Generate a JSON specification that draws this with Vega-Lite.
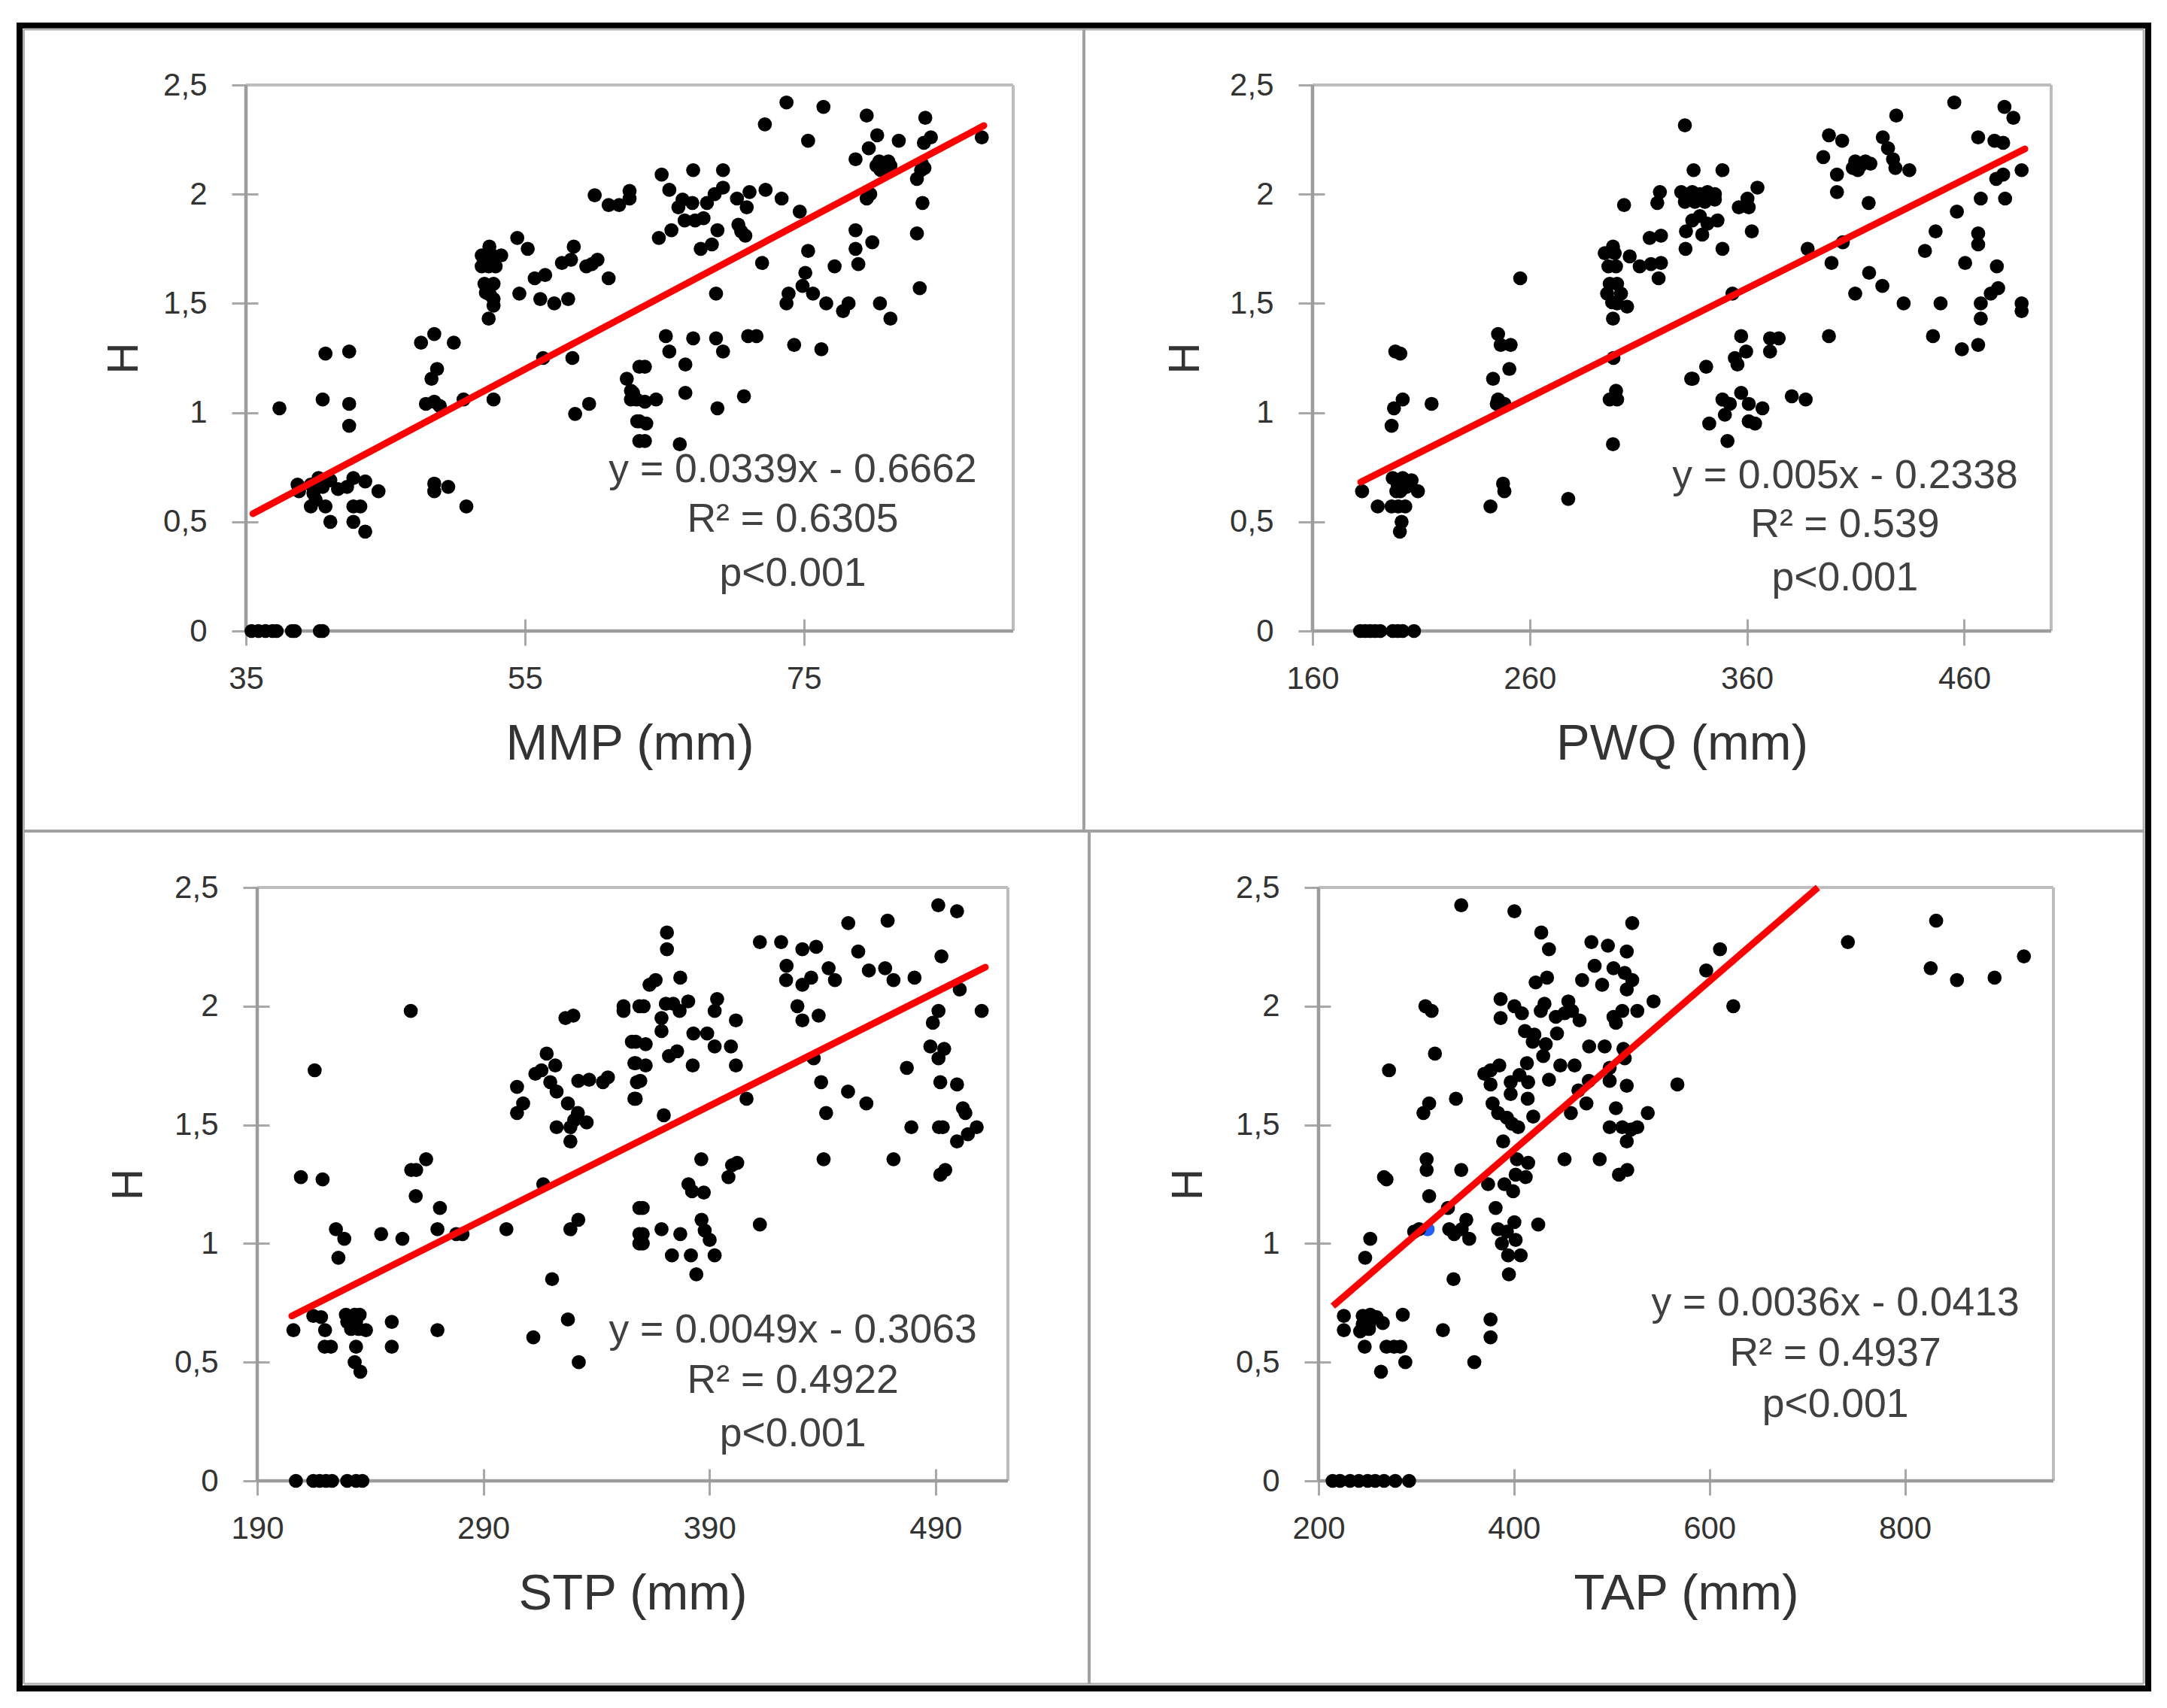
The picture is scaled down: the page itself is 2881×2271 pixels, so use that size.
{"$schema":"https://vega.github.io/schema/vega-lite/v6.json","background":"white","padding":{"left":20,"top":28,"right":23,"bottom":25},"columns":2,"align":"none","bounds":"flush","spacing":{"row":341,"column":398},
"config":{"view":{"stroke":null},"axis":{"grid":false,"domain":false,"tickColor":"#a8a8a8","tickWidth":3,"tickSize":35,"labelFont":"Liberation Sans","labelFontSize":42,"labelColor":"#333333","labelFlush":false,"labelOverlap":false,"labelBound":false,"titleFont":"Liberation Sans","titleFontWeight":"normal","titleColor":"#333333"},"axisX":{"labelPadding":24,"titleFontSize":67,"titleBaseline":"middle","titleY":166,"offset":-16},"axisY":{"labelPadding":33,"titleFontSize":58,"titleAngle":270,"titleBaseline":"middle","format":"~g","labelExpr":"replace(datum.label,'.',',')"}},
"datasets":{
"mmp":[{"x":35.4,"y":0},{"x":35.9,"y":0},{"x":36.4,"y":0},{"x":36.9,"y":0},{"x":37.2,"y":0},{"x":38.3,"y":0},{"x":38.5,"y":0},{"x":40.3,"y":0},{"x":40.5,"y":0},{"x":37.4,"y":1.02},{"x":40.5,"y":1.06},{"x":40.7,"y":1.27},{"x":42.4,"y":1.28},{"x":42.4,"y":1.04},{"x":42.4,"y":0.94},{"x":38.7,"y":0.67},{"x":38.8,"y":0.64},{"x":39.65,"y":0.67},{"x":40.2,"y":0.7},{"x":40.5,"y":0.66},{"x":39.84,"y":0.63},{"x":40,"y":0.6},{"x":39.65,"y":0.57},{"x":40.7,"y":0.57},{"x":41.05,"y":0.5},{"x":41.05,"y":0.69},{"x":41.6,"y":0.65},{"x":42.25,"y":0.66},{"x":42.7,"y":0.7},{"x":43.55,"y":0.685},{"x":44.5,"y":0.64},{"x":42.7,"y":0.57},{"x":43.2,"y":0.57},{"x":42.7,"y":0.5},{"x":43.55,"y":0.455},{"x":47.55,"y":1.32},{"x":48.5,"y":1.36},{"x":49.9,"y":1.32},{"x":48.7,"y":1.2},{"x":48.3,"y":1.155},{"x":47.9,"y":1.04},{"x":48.5,"y":1.05},{"x":48.9,"y":1.03},{"x":50.6,"y":1.06},{"x":52.75,"y":1.06},{"x":48.5,"y":0.675},{"x":48.5,"y":0.64},{"x":49.5,"y":0.66},{"x":50.8,"y":0.57},{"x":56.3,"y":1.25},{"x":58.4,"y":1.25},{"x":59.6,"y":1.04},{"x":58.6,"y":0.994},{"x":52.45,"y":1.76},{"x":51.9,"y":1.72},{"x":53.3,"y":1.72},{"x":52.65,"y":1.72},{"x":51.9,"y":1.67},{"x":52.9,"y":1.67},{"x":52.4,"y":1.67},{"x":52.1,"y":1.59},{"x":52.75,"y":1.59},{"x":52.2,"y":1.55},{"x":52.75,"y":1.52},{"x":52.75,"y":1.49},{"x":52.4,"y":1.43},{"x":52.5,"y":1.54},{"x":54.45,"y":1.8},{"x":55.2,"y":1.75},{"x":58.5,"y":1.76},{"x":57.65,"y":1.685},{"x":58.3,"y":1.7},{"x":59.4,"y":1.67},{"x":60.2,"y":1.7},{"x":59.8,"y":1.68},{"x":61,"y":1.615},{"x":55.7,"y":1.615},{"x":56.45,"y":1.63},{"x":54.6,"y":1.545},{"x":56.1,"y":1.52},{"x":57.1,"y":1.5},{"x":58.1,"y":1.52},{"x":60,"y":1.995},{"x":61,"y":1.95},{"x":61.75,"y":1.95},{"x":62.5,"y":1.98},{"x":62.5,"y":2.015},{"x":62.3,"y":1.155},{"x":63.2,"y":1.21},{"x":62.6,"y":1.1},{"x":62.6,"y":1.06},{"x":63.05,"y":0.96},{"x":63.2,"y":0.87},{"x":73.75,"y":2.42},{"x":76.4,"y":2.4},{"x":72.2,"y":2.32},{"x":75.3,"y":2.245},{"x":79.5,"y":2.36},{"x":80.25,"y":2.27},{"x":79.65,"y":2.21},{"x":78.7,"y":2.16},{"x":81.8,"y":2.245},{"x":83.7,"y":2.35},{"x":84.1,"y":2.26},{"x":83.6,"y":2.235},{"x":87.75,"y":2.26},{"x":80.4,"y":2.15},{"x":81.05,"y":2.15},{"x":80.5,"y":2.11},{"x":80.2,"y":2.13},{"x":80.75,"y":2.12},{"x":81.2,"y":2.13},{"x":83.45,"y":2.14},{"x":83.4,"y":2.11},{"x":83.1,"y":2.07},{"x":83.64,"y":2.12},{"x":79.75,"y":2},{"x":79.5,"y":1.98},{"x":83.5,"y":1.96},{"x":83.1,"y":1.82},{"x":83.3,"y":1.57},{"x":78.7,"y":1.835},{"x":79.9,"y":1.78},{"x":78.7,"y":1.75},{"x":78.9,"y":1.68},{"x":77.2,"y":1.67},{"x":75.3,"y":1.74},{"x":72,"y":1.685},{"x":74.7,"y":1.92},{"x":73.4,"y":1.98},{"x":72.25,"y":2.02},{"x":71.1,"y":2.01},{"x":70.9,"y":1.94},{"x":70.2,"y":1.98},{"x":69.2,"y":2.03},{"x":69.2,"y":2.11},{"x":67.06,"y":2.11},{"x":64.8,"y":2.09},{"x":65.35,"y":2.02},{"x":66.3,"y":1.975},{"x":66,"y":1.94},{"x":67,"y":1.96},{"x":68.05,"y":1.96},{"x":68.6,"y":2},{"x":66.45,"y":1.88},{"x":67.2,"y":1.88},{"x":67.8,"y":1.89},{"x":65.5,"y":1.835},{"x":64.6,"y":1.8},{"x":68.8,"y":1.835},{"x":68.4,"y":1.77},{"x":67.6,"y":1.75},{"x":70.3,"y":1.86},{"x":70.5,"y":1.83},{"x":70.8,"y":1.81},{"x":68.7,"y":1.545},{"x":75.1,"y":1.64},{"x":74.9,"y":1.58},{"x":73.9,"y":1.545},{"x":73.75,"y":1.5},{"x":75.65,"y":1.545},{"x":76.6,"y":1.5},{"x":78.2,"y":1.5},{"x":77.8,"y":1.465},{"x":80.45,"y":1.5},{"x":81.2,"y":1.43},{"x":65.1,"y":1.35},{"x":65.35,"y":1.28},{"x":67.06,"y":1.34},{"x":68.7,"y":1.34},{"x":69.2,"y":1.28},{"x":66.5,"y":1.22},{"x":63.6,"y":1.21},{"x":71,"y":1.35},{"x":71.6,"y":1.35},{"x":74.3,"y":1.31},{"x":76.25,"y":1.29},{"x":66.5,"y":1.09},{"x":68.8,"y":1.02},{"x":70.7,"y":1.075},{"x":64.4,"y":1.06},{"x":63.6,"y":1.05},{"x":62.75,"y":1.09},{"x":63,"y":1.06},{"x":63.2,"y":0.96},{"x":63.7,"y":0.95},{"x":63.6,"y":0.87},{"x":66.1,"y":0.855}],
"pwq":[{"x":181.9,"y":0},{"x":184.2,"y":0},{"x":186.5,"y":0},{"x":188.8,"y":0},{"x":191.2,"y":0},{"x":196.9,"y":0},{"x":199.2,"y":0},{"x":201.5,"y":0},{"x":206.7,"y":0},{"x":182.8,"y":0.64},{"x":190,"y":0.57},{"x":196.4,"y":0.57},{"x":202.7,"y":0.57},{"x":199.5,"y":0.57},{"x":196.9,"y":0.7},{"x":201.5,"y":0.7},{"x":205.6,"y":0.69},{"x":199.2,"y":0.67},{"x":203.3,"y":0.66},{"x":208.5,"y":0.64},{"x":200.4,"y":0.64},{"x":198.6,"y":0.64},{"x":201,"y":0.5},{"x":200.2,"y":0.455},{"x":198.1,"y":1.28},{"x":200.4,"y":1.27},{"x":201.5,"y":1.06},{"x":197.5,"y":1.02},{"x":196.4,"y":0.94},{"x":214.8,"y":1.04},{"x":245.4,"y":1.36},{"x":246.6,"y":1.31},{"x":251.2,"y":1.31},{"x":250.6,"y":1.2},{"x":243.1,"y":1.155},{"x":245.4,"y":1.06},{"x":244.8,"y":1.04},{"x":248.3,"y":1.04},{"x":255.6,"y":1.615},{"x":247.7,"y":0.675},{"x":248.3,"y":0.64},{"x":241.9,"y":0.57},{"x":277.7,"y":0.605},{"x":298.3,"y":1.76},{"x":294.5,"y":1.73},{"x":299.1,"y":1.73},{"x":296.2,"y":1.67},{"x":299.7,"y":1.67},{"x":306,"y":1.715},{"x":310.6,"y":1.67},{"x":315.8,"y":1.68},{"x":320.4,"y":1.685},{"x":319.3,"y":1.615},{"x":296.8,"y":1.59},{"x":300.2,"y":1.59},{"x":295.6,"y":1.545},{"x":302,"y":1.545},{"x":297.9,"y":1.505},{"x":300.2,"y":1.5},{"x":304.8,"y":1.485},{"x":298.3,"y":1.43},{"x":298.5,"y":1.25},{"x":299.7,"y":1.1},{"x":296.8,"y":1.06},{"x":300.2,"y":1.06},{"x":298.3,"y":0.855},{"x":303.4,"y":1.95},{"x":315.2,"y":1.8},{"x":320.4,"y":1.81},{"x":319.9,"y":2.01},{"x":318.7,"y":1.96},{"x":331.4,"y":2.315},{"x":329.7,"y":2.01},{"x":334.3,"y":1.155},{"x":335.4,"y":2.11},{"x":348.7,"y":2.11},{"x":331.4,"y":2},{"x":334.8,"y":2.01},{"x":338.3,"y":2},{"x":341.8,"y":2.01},{"x":345.2,"y":2},{"x":331.4,"y":1.965},{"x":336,"y":1.965},{"x":340.6,"y":1.965},{"x":345.2,"y":1.975},{"x":338.3,"y":1.9},{"x":334.8,"y":1.88},{"x":341.8,"y":1.865},{"x":346.4,"y":1.88},{"x":331.9,"y":1.83},{"x":339.4,"y":1.815},{"x":331.7,"y":1.75},{"x":348.7,"y":1.75},{"x":356.2,"y":1.94},{"x":360.8,"y":1.94},{"x":360.2,"y":1.98},{"x":364.8,"y":2.03},{"x":362.2,"y":1.83},{"x":353.3,"y":1.545},{"x":387.9,"y":1.75},{"x":404.1,"y":1.78},{"x":398.9,"y":1.685},{"x":416.2,"y":1.64},{"x":409.8,"y":1.545},{"x":422.3,"y":1.58},{"x":432.1,"y":1.5},{"x":449.1,"y":1.5},{"x":441.9,"y":1.74},{"x":446.8,"y":1.83},{"x":456.6,"y":1.92},{"x":467.6,"y":1.98},{"x":478.8,"y":1.98},{"x":466.4,"y":1.82},{"x":466.4,"y":1.77},{"x":460.4,"y":1.685},{"x":475,"y":1.67},{"x":475.6,"y":1.57},{"x":472.2,"y":1.545},{"x":467.6,"y":1.5},{"x":467.6,"y":1.43},{"x":486.4,"y":1.5},{"x":486.4,"y":1.465},{"x":445.6,"y":1.35},{"x":466.4,"y":1.31},{"x":458.9,"y":1.29},{"x":397.7,"y":1.35},{"x":397.7,"y":2.27},{"x":403.8,"y":2.245},{"x":395.1,"y":2.17},{"x":401.4,"y":2.09},{"x":401.4,"y":2.01},{"x":416,"y":1.96},{"x":428.7,"y":2.36},{"x":422.5,"y":2.26},{"x":424.9,"y":2.21},{"x":427.2,"y":2.16},{"x":428.3,"y":2.12},{"x":434.7,"y":2.11},{"x":409.8,"y":2.15},{"x":414.5,"y":2.15},{"x":416.8,"y":2.14},{"x":411,"y":2.11},{"x":408.7,"y":2.12},{"x":412.2,"y":2.13},{"x":455.4,"y":2.42},{"x":478.5,"y":2.4},{"x":482.6,"y":2.35},{"x":466.4,"y":2.26},{"x":473.9,"y":2.245},{"x":477.9,"y":2.235},{"x":486.4,"y":2.11},{"x":477.9,"y":2.09},{"x":474.7,"y":2.07},{"x":357.3,"y":1.35},{"x":359.6,"y":1.28},{"x":354.4,"y":1.25},{"x":355.6,"y":1.22},{"x":341.2,"y":1.21},{"x":335,"y":1.155},{"x":370.6,"y":1.34},{"x":374.6,"y":1.34},{"x":370.6,"y":1.28},{"x":348.7,"y":1.06},{"x":357.3,"y":1.09},{"x":352.1,"y":1.04},{"x":349.8,"y":0.99},{"x":360.8,"y":1.04},{"x":367.1,"y":1.02},{"x":342.6,"y":0.95},{"x":360.8,"y":0.96},{"x":363.7,"y":0.95},{"x":351,"y":0.87},{"x":380.6,"y":1.075},{"x":387,"y":1.06}],
"stp":[{"x":207.1,"y":0},{"x":214.8,"y":0},{"x":217.6,"y":0},{"x":220.4,"y":0},{"x":223.1,"y":0},{"x":229.8,"y":0},{"x":233.7,"y":0},{"x":236.5,"y":0},{"x":206,"y":0.635},{"x":215.4,"y":1.73},{"x":257.9,"y":1.98},{"x":209.3,"y":1.28},{"x":218.9,"y":1.27},{"x":224.8,"y":1.06},{"x":228.5,"y":1.02},{"x":225.9,"y":0.94},{"x":244.8,"y":1.04},{"x":254.2,"y":1.02},{"x":264.7,"y":1.355},{"x":260.3,"y":1.31},{"x":258.1,"y":1.31},{"x":260.1,"y":1.2},{"x":270.8,"y":1.15},{"x":269.7,"y":1.06},{"x":278,"y":1.04},{"x":280.8,"y":1.04},{"x":300.2,"y":1.06},{"x":214.8,"y":0.695},{"x":218.2,"y":0.69},{"x":220,"y":0.635},{"x":219.8,"y":0.565},{"x":222.6,"y":0.565},{"x":229.2,"y":0.7},{"x":233.1,"y":0.7},{"x":235.3,"y":0.7},{"x":229.8,"y":0.67},{"x":233.7,"y":0.67},{"x":231.5,"y":0.64},{"x":234.8,"y":0.64},{"x":238.1,"y":0.635},{"x":233.7,"y":0.565},{"x":233.1,"y":0.5},{"x":235.6,"y":0.46},{"x":249.5,"y":0.67},{"x":249.5,"y":0.565},{"x":269.7,"y":0.635},{"x":312.1,"y":0.605},{"x":327.4,"y":0.68},{"x":320.4,"y":0.85},{"x":332.2,"y":0.5},{"x":316.5,"y":1.25},{"x":332,"y":1.1},{"x":328.5,"y":1.06},{"x":304.9,"y":1.66},{"x":307.6,"y":1.59},{"x":304.9,"y":1.55},{"x":318,"y":1.8},{"x":321.8,"y":1.75},{"x":313,"y":1.715},{"x":315.7,"y":1.73},{"x":319.6,"y":1.68},{"x":322.4,"y":1.64},{"x":327.4,"y":1.59},{"x":331.8,"y":1.55},{"x":335.7,"y":1.51},{"x":322.4,"y":1.49},{"x":328.5,"y":1.49},{"x":330.2,"y":1.52},{"x":328.5,"y":1.43},{"x":332,"y":1.685},{"x":336.8,"y":1.69},{"x":342.9,"y":1.68},{"x":345.1,"y":1.7},{"x":326.3,"y":1.95},{"x":329.8,"y":1.96},{"x":352,"y":1.98},{"x":352,"y":2},{"x":359,"y":2},{"x":355.7,"y":1.85},{"x":356.8,"y":1.76},{"x":357.9,"y":1.68},{"x":356.8,"y":1.61},{"x":359,"y":1.15},{"x":359,"y":1.04},{"x":359,"y":1},{"x":371.2,"y":2.31},{"x":371.2,"y":2.24},{"x":366.2,"y":2.11},{"x":363.5,"y":2.09},{"x":377.1,"y":2.12},{"x":360.9,"y":2},{"x":370.7,"y":2.01},{"x":374,"y":2.01},{"x":376.8,"y":1.98},{"x":380.6,"y":2.02},{"x":368.8,"y":1.95},{"x":368.8,"y":1.895},{"x":393.4,"y":2.03},{"x":392.3,"y":1.98},{"x":401.7,"y":1.94},{"x":382.9,"y":1.885},{"x":389,"y":1.885},{"x":392.3,"y":1.83},{"x":399.5,"y":1.83},{"x":401.7,"y":1.75},{"x":382.6,"y":1.75},{"x":375.7,"y":1.81},{"x":372.1,"y":1.79},{"x":361.8,"y":1.84},{"x":357.4,"y":1.85},{"x":361.8,"y":1.75},{"x":357.4,"y":1.76},{"x":359.4,"y":1.685},{"x":357.4,"y":1.61},{"x":369.8,"y":1.54},{"x":406.4,"y":1.61},{"x":386.4,"y":1.355},{"x":402.3,"y":1.34},{"x":400,"y":1.33},{"x":398.4,"y":1.28},{"x":380.7,"y":1.25},{"x":382.3,"y":1.22},{"x":387.5,"y":1.215},{"x":360.5,"y":1.15},{"x":360.5,"y":1.04},{"x":360.5,"y":1},{"x":368.8,"y":1.06},{"x":377.1,"y":1.04},{"x":386.5,"y":1.1},{"x":387.9,"y":1.055},{"x":390.1,"y":1.015},{"x":373.4,"y":0.95},{"x":381.8,"y":0.95},{"x":392.3,"y":0.95},{"x":384.2,"y":0.87},{"x":412.3,"y":1.08},{"x":412.3,"y":2.27},{"x":421.7,"y":2.27},{"x":431.1,"y":2.24},{"x":437.2,"y":2.25},{"x":424.1,"y":2.17},{"x":423.9,"y":2.11},{"x":431.1,"y":2.09},{"x":435,"y":2.12},{"x":442.7,"y":2.16},{"x":445.5,"y":2.11},{"x":428.9,"y":2},{"x":431.1,"y":1.94},{"x":438.3,"y":1.96},{"x":451.4,"y":2.35},{"x":468.8,"y":2.36},{"x":455.8,"y":2.23},{"x":460.5,"y":2.15},{"x":467.7,"y":2.16},{"x":471.4,"y":2.11},{"x":480.7,"y":2.12},{"x":491.2,"y":2.425},{"x":499.5,"y":2.4},{"x":492.6,"y":2.21},{"x":500.7,"y":2.07},{"x":491.3,"y":1.98},{"x":510.4,"y":1.98},{"x":488.8,"y":1.93},{"x":487.7,"y":1.83},{"x":493.8,"y":1.82},{"x":491.3,"y":1.78},{"x":477.3,"y":1.74},{"x":436.1,"y":1.78},{"x":439.4,"y":1.68},{"x":451.3,"y":1.64},{"x":459.4,"y":1.59},{"x":441.6,"y":1.55},{"x":492.1,"y":1.68},{"x":499.5,"y":1.67},{"x":502.1,"y":1.57},{"x":503.2,"y":1.55},{"x":479.3,"y":1.49},{"x":491.5,"y":1.49},{"x":493.2,"y":1.49},{"x":508.2,"y":1.49},{"x":504.3,"y":1.46},{"x":499.5,"y":1.43},{"x":440.5,"y":1.355},{"x":471.4,"y":1.355},{"x":494.3,"y":1.31},{"x":492.1,"y":1.29}],
"tap":[{"x":214.4,"y":0},{"x":222,"y":0},{"x":232.3,"y":0},{"x":241.3,"y":0},{"x":250.3,"y":0},{"x":258,"y":0},{"x":267,"y":0},{"x":278.5,"y":0},{"x":292.6,"y":0},{"x":346,"y":2.425},{"x":400.4,"y":2.4},{"x":427.9,"y":2.31},{"x":435.8,"y":2.24},{"x":521,"y":2.35},{"x":479.2,"y":2.27},{"x":496.1,"y":2.255},{"x":515.4,"y":2.23},{"x":482.5,"y":2.17},{"x":501.8,"y":2.16},{"x":513.3,"y":2.14},{"x":521,"y":2.11},{"x":469.7,"y":2.11},{"x":490.2,"y":2.09},{"x":515.4,"y":2.07},{"x":422.2,"y":2.1},{"x":433.8,"y":2.12},{"x":309.3,"y":2},{"x":315.7,"y":1.98},{"x":386.3,"y":2.03},{"x":386.3,"y":1.95},{"x":400.4,"y":2},{"x":408.1,"y":1.97},{"x":431.2,"y":2.01},{"x":427.4,"y":1.98},{"x":455.6,"y":2.02},{"x":442.8,"y":1.955},{"x":451.7,"y":1.97},{"x":459.4,"y":1.98},{"x":467.1,"y":1.94},{"x":444,"y":1.885},{"x":542.8,"y":2.02},{"x":501.8,"y":1.955},{"x":504.3,"y":1.93},{"x":510.8,"y":1.98},{"x":526.2,"y":1.98},{"x":411.2,"y":1.895},{"x":420.9,"y":1.88},{"x":419.2,"y":1.85},{"x":432.5,"y":1.84},{"x":429.9,"y":1.79},{"x":319.1,"y":1.8},{"x":476.9,"y":1.83},{"x":492.8,"y":1.83},{"x":512,"y":1.82},{"x":513.3,"y":1.78},{"x":272.1,"y":1.73},{"x":369.6,"y":1.715},{"x":376,"y":1.73},{"x":385,"y":1.75},{"x":376,"y":1.67},{"x":413.2,"y":1.76},{"x":396.6,"y":1.68},{"x":405.6,"y":1.71},{"x":414.5,"y":1.68},{"x":396.6,"y":1.63},{"x":435.8,"y":1.69},{"x":447.4,"y":1.75},{"x":462,"y":1.75},{"x":497.9,"y":1.74},{"x":497.9,"y":1.685},{"x":476.6,"y":1.685},{"x":515.4,"y":1.665},{"x":567.2,"y":1.67},{"x":313.2,"y":1.59},{"x":307.3,"y":1.55},{"x":340.6,"y":1.61},{"x":378.1,"y":1.59},{"x":383.7,"y":1.55},{"x":392.7,"y":1.53},{"x":397.9,"y":1.505},{"x":404.3,"y":1.49},{"x":414,"y":1.61},{"x":419.7,"y":1.535},{"x":458.2,"y":1.55},{"x":465.9,"y":1.645},{"x":474.1,"y":1.59},{"x":504.3,"y":1.57},{"x":536.9,"y":1.55},{"x":497.9,"y":1.49},{"x":510.8,"y":1.49},{"x":526.2,"y":1.49},{"x":519.7,"y":1.48},{"x":515.4,"y":1.43},{"x":388.9,"y":1.43},{"x":451.7,"y":1.355},{"x":487.7,"y":1.355},{"x":515.9,"y":1.31},{"x":507.4,"y":1.29},{"x":310.6,"y":1.355},{"x":310.6,"y":1.31},{"x":346,"y":1.31},{"x":267,"y":1.28},{"x":269.5,"y":1.27},{"x":403,"y":1.355},{"x":414.5,"y":1.34},{"x":412,"y":1.28},{"x":401.7,"y":1.29},{"x":390.2,"y":1.25},{"x":373.5,"y":1.25},{"x":399.1,"y":1.22},{"x":313.2,"y":1.2},{"x":332.4,"y":1.15},{"x":381.2,"y":1.15},{"x":297.8,"y":1.05},{"x":302.9,"y":1.06},{"x":351.2,"y":1.1},{"x":333.7,"y":1.06},{"x":338.8,"y":1.04},{"x":354.2,"y":1.02},{"x":346.5,"y":1.06},{"x":252.9,"y":1.02},{"x":247.7,"y":0.94},{"x":400.4,"y":1.09},{"x":424.8,"y":1.08},{"x":383.7,"y":1.06},{"x":392.7,"y":1.05},{"x":401.7,"y":1.015},{"x":387.6,"y":1},{"x":394,"y":0.95},{"x":406.8,"y":0.95},{"x":394.8,"y":0.87},{"x":338.1,"y":0.85},{"x":225.9,"y":0.695},{"x":225.9,"y":0.635},{"x":245.2,"y":0.695},{"x":252.9,"y":0.7},{"x":259.3,"y":0.69},{"x":245.2,"y":0.66},{"x":251.6,"y":0.66},{"x":265.7,"y":0.665},{"x":242.6,"y":0.63},{"x":251.6,"y":0.64},{"x":286.2,"y":0.7},{"x":247.2,"y":0.565},{"x":269.5,"y":0.565},{"x":277.2,"y":0.565},{"x":283.7,"y":0.565},{"x":288.8,"y":0.5},{"x":263.9,"y":0.46},{"x":327.3,"y":0.635},{"x":376,"y":0.68},{"x":376,"y":0.605},{"x":359.4,"y":0.5},{"x":610.8,"y":2.24},{"x":596.7,"y":2.15},{"x":624.4,"y":2},{"x":741.7,"y":2.27},{"x":832,"y":2.36},{"x":826.4,"y":2.16},{"x":853.3,"y":2.11},{"x":891.8,"y":2.12},{"x":921.8,"y":2.21}]
},
"concat":[
{"width":1020,"height":726,"encoding":{"x":{"field":"x","type":"quantitative","title":"MMP (mm)","scale":{"domain":[35,90],"nice":false,"zero":false},"axis":{"values":[35,55,75]}},"y":{"field":"y","type":"quantitative","title":"H","scale":{"domain":[0,2.5],"nice":false},"axis":{"values":[0,0.5,1,1.5,2,2.5],"offset":-16,"titleX":-178}}},"layer":[
{"data":{"values":[{"x":18.769,"y":2.772,"x2":171.37,"y2":2.772},{"x":18.769,"y":-4.8416,"x2":171.37,"y2":-4.8416},{"x":18.769,"y":2.772,"x2":18.769,"y2":-4.8416},{"x":171.37,"y":2.772,"x2":171.37,"y2":-4.8416}]},"mark":{"type":"rule","color":"black","strokeWidth":8,"strokeCap":"square"},"encoding":{"x2":{"field":"x2"},"y2":{"field":"y2"}}},
{"data":{"values":[{"x":19.066,"y":2.7548,"x2":171.05,"y2":2.7548},{"x":19.066,"y":-4.821,"x2":171.05,"y2":-4.821},{"x":19.066,"y":2.7548,"x2":19.066,"y2":-4.821},{"x":171.05,"y":2.7548,"x2":171.05,"y2":-4.821}]},"mark":{"type":"rule","color":"#b0b0b0","strokeWidth":3},"encoding":{"x2":{"field":"x2"},"y2":{"field":"y2"}}},
{"data":{"values":[{"x":95.07,"y":2.7548,"x2":95.07,"y2":-0.916},{"x":95.45,"y":-0.916,"x2":95.45,"y2":-4.821},{"x":19.066,"y":-0.916,"x2":171.05,"y2":-0.916}]},"mark":{"type":"rule","color":"#a0a0a0","strokeWidth":4},"encoding":{"x2":{"field":"x2"},"y2":{"field":"y2"}}},
{"data":{"values":[{"x":35,"y":2.5,"x2":90,"y2":2.5},{"x":90,"y":2.5,"x2":90,"y2":0}]},"mark":{"type":"rule","color":"#bdbdbd","strokeWidth":4},"encoding":{"x2":{"field":"x2"},"y2":{"field":"y2"}}},
{"data":{"values":[{"x":35,"y":2.5,"x2":35,"y2":0},{"x":35,"y":0,"x2":90,"y2":0}]},"mark":{"type":"rule","color":"#9c9c9c","strokeWidth":4.5},"encoding":{"x2":{"field":"x2"},"y2":{"field":"y2"}}},
{"data":{"name":"mmp"},"mark":{"type":"circle","size":350,"color":"black","opacity":1}},
{"data":{"values":[{"x":35.5,"y":0.537},{"x":87.9,"y":2.314}]},"mark":{"type":"line","color":"#ff0000","strokeWidth":9,"strokeCap":"round"}},
{"data":{"values":[{"x":74.2,"y":0.737,"label":"y = 0.0339x - 0.6662"},{"x":74.2,"y":0.51,"label":"R² = 0.6305"},{"x":74.2,"y":0.263,"label":"p<0.001"}]},"mark":{"type":"text","font":"Liberation Sans","fontSize":53.5,"color":"#404040","align":"center","baseline":"middle"},"encoding":{"text":{"field":"label"}}}
]},
{"width":982,"height":726,"encoding":{"x":{"field":"x","type":"quantitative","title":"PWQ (mm)","scale":{"domain":[160,500],"nice":false,"zero":false},"axis":{"values":[160,260,360,460]}},"y":{"field":"y","type":"quantitative","title":"H","scale":{"domain":[0,2.5],"nice":false},"axis":{"values":[0,0.5,1,1.5,2,2.5],"offset":-16,"titleX":-185}}},"layer":[
{"data":{"values":[{"x":160,"y":2.5,"x2":500,"y2":2.5},{"x":500,"y":2.5,"x2":500,"y2":0}]},"mark":{"type":"rule","color":"#bdbdbd","strokeWidth":4},"encoding":{"x2":{"field":"x2"},"y2":{"field":"y2"}}},
{"data":{"values":[{"x":160,"y":2.5,"x2":160,"y2":0},{"x":160,"y":0,"x2":500,"y2":0}]},"mark":{"type":"rule","color":"#9c9c9c","strokeWidth":4.5},"encoding":{"x2":{"field":"x2"},"y2":{"field":"y2"}}},
{"data":{"name":"pwq"},"mark":{"type":"circle","size":350,"color":"black","opacity":1}},
{"data":{"values":[{"x":182.2,"y":0.682},{"x":487.9,"y":2.207}]},"mark":{"type":"line","color":"#ff0000","strokeWidth":9,"strokeCap":"round"}},
{"data":{"values":[{"x":405.1,"y":0.709,"label":"y = 0.005x - 0.2338"},{"x":405.1,"y":0.485,"label":"R² = 0.539"},{"x":405.1,"y":0.241,"label":"p<0.001"}]},"mark":{"type":"text","font":"Liberation Sans","fontSize":53.5,"color":"#404040","align":"center","baseline":"middle"},"encoding":{"text":{"field":"label"}}}
]},
{"width":1020,"height":789,"encoding":{"x":{"field":"x","type":"quantitative","title":"STP (mm)","scale":{"domain":[190,522],"range":[15,1013],"nice":false,"zero":false},"axis":{"values":[190,290,390,490]}},"y":{"field":"y","type":"quantitative","title":"H","scale":{"domain":[0,2.5],"nice":false},"axis":{"values":[0,0.5,1,1.5,2,2.5],"offset":-31,"titleX":-187}}},"layer":[
{"data":{"values":[{"x":190,"y":2.5,"x2":522,"y2":2.5},{"x":522,"y":2.5,"x2":522,"y2":0}]},"mark":{"type":"rule","color":"#bdbdbd","strokeWidth":4},"encoding":{"x2":{"field":"x2"},"y2":{"field":"y2"}}},
{"data":{"values":[{"x":190,"y":2.5,"x2":190,"y2":0},{"x":190,"y":0,"x2":522,"y2":0}]},"mark":{"type":"rule","color":"#9c9c9c","strokeWidth":4.5},"encoding":{"x2":{"field":"x2"},"y2":{"field":"y2"}}},
{"data":{"name":"stp"},"mark":{"type":"circle","size":350,"color":"black","opacity":1}},
{"data":{"values":[{"x":205.3,"y":0.695},{"x":512,"y":2.164}]},"mark":{"type":"line","color":"#ff0000","strokeWidth":9,"strokeCap":"round"}},
{"data":{"values":[{"x":426.9,"y":0.634,"label":"y = 0.0049x - 0.3063"},{"x":426.9,"y":0.421,"label":"R² = 0.4922"},{"x":426.9,"y":0.196,"label":"p<0.001"}]},"mark":{"type":"text","font":"Liberation Sans","fontSize":53.5,"color":"#404040","align":"center","baseline":"middle"},"encoding":{"text":{"field":"label"}}}
]},
{"width":985,"height":789,"encoding":{"x":{"field":"x","type":"quantitative","title":"TAP (mm)","scale":{"domain":[200,952],"range":[8,985],"nice":false,"zero":false},"axis":{"values":[200,400,600,800]}},"y":{"field":"y","type":"quantitative","title":"H","scale":{"domain":[0,2.5],"nice":false},"axis":{"values":[0,0.5,1,1.5,2,2.5],"offset":-24,"titleX":-189}}},"layer":[
{"data":{"values":[{"x":200,"y":2.5,"x2":952,"y2":2.5},{"x":952,"y":2.5,"x2":952,"y2":0}]},"mark":{"type":"rule","color":"#bdbdbd","strokeWidth":4},"encoding":{"x2":{"field":"x2"},"y2":{"field":"y2"}}},
{"data":{"values":[{"x":200,"y":2.5,"x2":200,"y2":0},{"x":200,"y":0,"x2":952,"y2":0}]},"mark":{"type":"rule","color":"#9c9c9c","strokeWidth":4.5},"encoding":{"x2":{"field":"x2"},"y2":{"field":"y2"}}},
{"data":{"values":[{"x":311.6,"y":1.06}]},"mark":{"type":"circle","size":350,"color":"#2060ff","opacity":1}},
{"data":{"name":"tap"},"mark":{"type":"circle","size":350,"color":"black","opacity":1}},
{"data":{"values":[{"x":214.6,"y":0.736},{"x":711,"y":2.5}]},"mark":{"type":"line","color":"#ff0000","strokeWidth":9,"strokeCap":"butt"}},
{"data":{"values":[{"x":728.9,"y":0.748,"label":"y = 0.0036x - 0.0413"},{"x":728.9,"y":0.535,"label":"R² = 0.4937"},{"x":728.9,"y":0.32,"label":"p<0.001"}]},"mark":{"type":"text","font":"Liberation Sans","fontSize":53.5,"color":"#404040","align":"center","baseline":"middle"},"encoding":{"text":{"field":"label"}}}
]}
]}
